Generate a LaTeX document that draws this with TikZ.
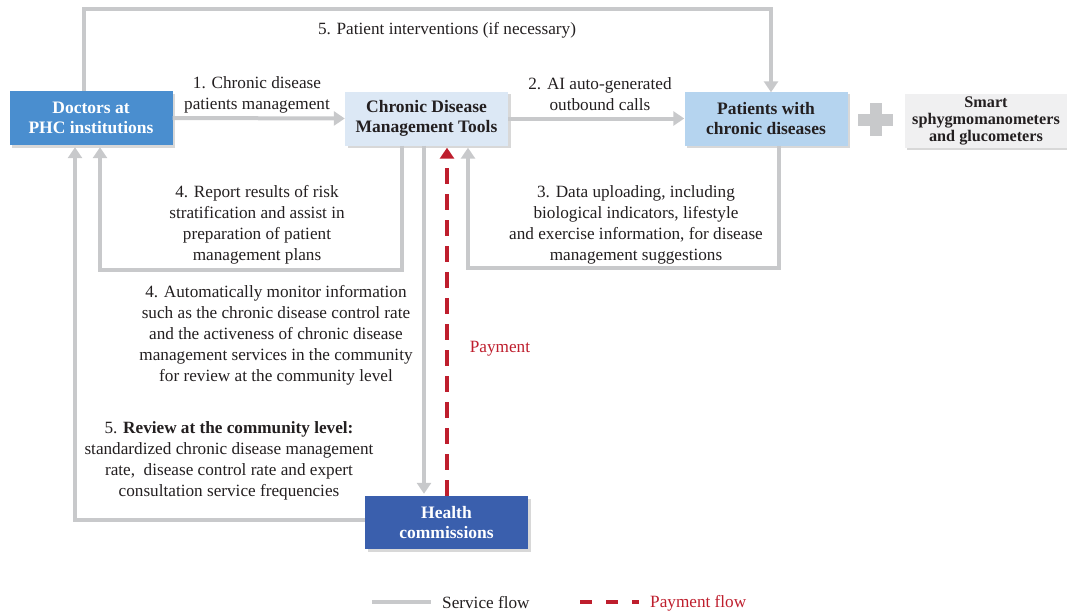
\documentclass[tikz,border=0pt]{standalone}
\usepackage{fontspec}
\setmainfont{Liberation Serif}
\usetikzlibrary{arrows.meta,shadows,calc}
\definecolor{txt}{RGB}{35,31,32}
\definecolor{flow}{RGB}{200,201,203}
\definecolor{pay}{RGB}{190,30,45}
\definecolor{docblue}{RGB}{74,142,207}
\definecolor{toolblue}{RGB}{220,232,245}
\definecolor{patblue}{RGB}{181,212,239}
\definecolor{devgray}{RGB}{240,240,241}
\definecolor{hcblue}{RGB}{58,95,173}
\tikzset{
  box/.style={minimum width=163pt, minimum height=54pt, inner sep=0pt, align=center,
    font=\fontsize{17.5}{20}\selectfont\bfseries,
    drop shadow={shadow xshift=2.5pt, shadow yshift=-2.5pt, fill=black!30, opacity=0.5}},
  lbl/.style={align=center, text=txt, font=\fontsize{17.2}{21}\selectfont, inner sep=0pt},
  service/.style={draw=flow, line width=4pt, -{Triangle[width=14pt,length=11pt]}},
  payment/.style={draw=pay, line width=4pt, dash pattern=on 16pt off 10pt,
    -{Triangle[width=14pt,length=11pt]}},
}
\begin{document}
\begin{tikzpicture}[x=1pt, y=-1pt]
  \useasboundingbox (0,0) rectangle (1067,613);

  % boxes
  \node[box, fill=docblue, text=white] (doc) at (91,118) {Doctors at\\PHC institutions};
  \node[box, fill=toolblue, text=txt] (cdmt) at (426.5,118.5) {Chronic Disease\\Management Tools};
  \node[box, fill=patblue, text=txt] (pat) at (766,118.5) {Patients with\\chronic diseases};
  \node[box, fill=devgray, text=txt, font=\fontsize{16.2}{17}\selectfont\bfseries] (smart) at (986,120.5) {Smart\\sphygmomanometers\\and glucometers};
  \node[box, fill=hcblue, text=white, minimum height=53pt] (hc) at (446.5,522.5) {Health\\commissions};

  % plus sign between patients and devices
  \fill[flow] (858,113.5) rectangle (893,125.5);
  \fill[flow] (869.5,103) rectangle (881.5,136);

  % corner points of the routed connectors
  \coordinate (tl) at (84,9);
  \coordinate (tr) at (771,9);
  \coordinate (rl) at (100,270);
  \coordinate (rr) at (402,270);
  \coordinate (dl) at (468,268);
  \coordinate (dr) at (779,268);
  \coordinate (vl) at (75,520);
  \coordinate (mon) at (424,0);
  \coordinate (pm) at (447,0);

  % service flows
  \draw[service] (doc.east) -- (cdmt.west);
  \draw[service] (cdmt.east) -- (pat.west);
  \draw[service] (doc.north -| tl) -- (tl) -- (tr) -- ([yshift=-1pt]pat.north -| tr);
  \draw[service, shorten >=2pt] (cdmt.south -| rr) -- (rr) -- (rl) -- (doc.south -| rl);
  \draw[service, shorten >=2pt] (pat.south -| dr) -- (dr) -- (dl) -- (cdmt.south -| dl);
  \draw[service, shorten >=2pt] (cdmt.south -| mon) -- (hc.north -| mon);
  \draw[service, shorten >=2pt] (hc.west |- vl) -- (vl) -- (doc.south -| vl);

  % payment flow
  \draw[payment, shorten >=2pt] (hc.north -| pm) -- (cdmt.south -| pm);

  % labels
  \node[lbl] (l5a) at (447,30.5) {5. Patient interventions (if necessary)};
  \node[lbl] (l1) at (257,94.5) {1. Chronic disease\\patients management};
  \node[lbl] (l2) at (600,94.5) {2. AI auto-generated\\outbound calls};
  \node[lbl] (l4a) at (257,225) {4. Report results of risk\\stratification and assist in\\preparation of patient\\management plans};
  \node[lbl] (l3) at (636,225) {3. Data uploading, including\\biological indicators, lifestyle\\and exercise information, for disease\\management suggestions};
  \node[lbl] (l4b) at (276,335.5) {4. Automatically monitor information\\such as the chronic disease control rate\\and the activeness of chronic disease\\management services in the community\\for review at the community level};
  \node[lbl] (l5b) at (229,461) {5. \textbf{Review at the community level:}\\standardized chronic disease management\\rate,\ \ disease control rate and expert\\consultation service frequencies};
  \node[lbl, text=pay] (lpay) at (500,348.5) {Payment};

  % legend
  \coordinate (sa) at (372,602);
  \coordinate (sb) at (431,602);
  \coordinate (pa) at (580,602);
  \coordinate (pb) at (639,602);
  \draw[draw=flow, line width=4pt] (sa) -- (sb);
  \node[lbl, anchor=west] (ls) at (442,603) {Service flow};
  \draw[draw=pay, line width=4pt, dash pattern=on 12pt off 14pt] (pa) -- (pb);
  \node[lbl, anchor=west, text=pay] (lp) at (650,603) {Payment flow};
\end{tikzpicture}
\end{document}
